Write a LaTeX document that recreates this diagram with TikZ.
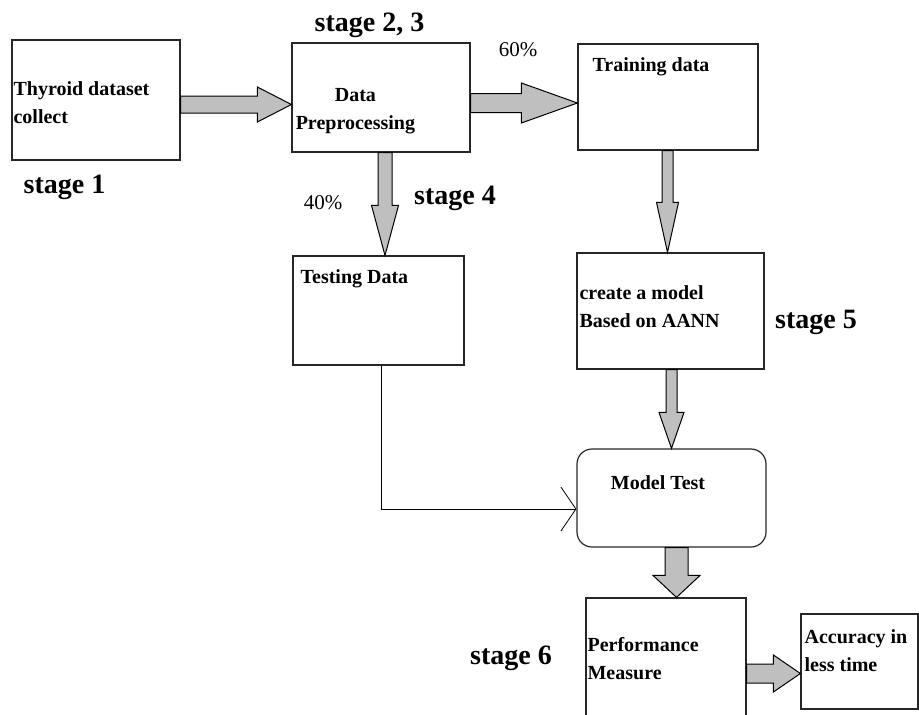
\documentclass[tikz,border=0pt]{standalone}
\usepackage{fontspec}
\setmainfont{Liberation Serif}
\usetikzlibrary{arrows.meta}
\usetikzlibrary{calc}
\tikzset{
	blk/.style={shape=rectangle,draw=black!85,line width=1.2pt,inner sep=0pt},
	fatarrow/.style={draw,fill=black!25,line width=1pt,line join=miter},
	boxtxt/.style={font=\bfseries\fontsize{20}{28}\selectfont,align=left,inner sep=0pt,anchor=west},
	stagetxt/.style={font=\bfseries\fontsize{28}{32}\selectfont,inner sep=0pt},
	pcttxt/.style={font=\fontsize{21}{24}\selectfont,inner sep=0pt}
}
\newcommand{\drawblk}[5]{
	\draw #1 node (#2) [blk,minimum width=#3pt,minimum height=#4pt,#5] {};
}
\newcommand{\fatright}[5]{
	\path #1 coordinate (fa) #2 coordinate (fb);
	\draw[fatarrow] let \p1=(fa), \p2=(fb) in (\x1,\y2+#3pt) -- (\x2-#5pt,\y2+#3pt) -- (\x2-#5pt,\y2+#4pt) -- (\x2,\y2) -- (\x2-#5pt,\y2-#4pt) -- (\x2-#5pt,\y2-#3pt) -- (\x1,\y2-#3pt) -- cycle;
}
\newcommand{\fatdown}[5]{
	\path #1 coordinate (fa) #2 coordinate (fb);
	\draw[fatarrow] let \p1=(fa), \p2=(fb) in (\x2-#3pt,\y1) -- (\x2-#3pt,\y2+#5pt) -- (\x2-#4pt,\y2+#5pt) -- (\x2,\y2) -- (\x2+#4pt,\y2+#5pt) -- (\x2+#3pt,\y2+#5pt) -- (\x2+#3pt,\y1) -- cycle;
}
\begin{document}
\begin{tikzpicture}[x=1pt,y=1pt]
\useasboundingbox (0,0) rectangle (919,-715);
\clip (0,0) rectangle (919,-715);
\drawblk{(96,-100)}{b1}{168}{120}{}
\drawblk{(381,-97.5)}{prep}{178}{109}{}
\drawblk{(668,-97)}{train}{180}{106}{}
\drawblk{(378.5,-310.5)}{test}{171}{109}{}
\drawblk{(670.5,-311)}{model}{187}{116}{}
\drawblk{(671.5,-498)}{mtest}{189}{98}{rounded corners=15pt}
\drawblk{(666,-664)}{perf}{160}{132}{}
\drawblk{(859.5,-661.5)}{acc}{117}{95}{}
\draw (b1.west) ++(right:2) ++(down:2.5) node [boxtxt] {Thyroid dataset\\collect};
\draw (prep.west) ++(right:64) ++(down:14) node [boxtxt,anchor=center,align=center] {Data\\Preprocessing};
\draw (train.north west) ++(right:15) ++(down:23) node [boxtxt] {Training data};
\draw (test.north west) ++(right:8) ++(down:23) node [boxtxt] {Testing Data};
\draw (model.west) ++(right:3) ++(up:4.5) node [boxtxt] {create a model\\Based on AANN};
\draw (mtest.north) ++(left:13.5) ++(down:34) node [boxtxt,anchor=center] {Model Test};
\draw (perf.north west) ++(right:2) ++(down:61) node [boxtxt] {Performance\\Measure};
\draw (acc.north west) ++(right:4) ++(down:37.5) node [boxtxt] {Accuracy in\\less time};
\fatright{(b1.east)}{([yshift=-7]prep.west)}{8.5}{17.5}{34}
\fatright{(prep.east)}{([yshift=-6]train.west)}{9.5}{20}{56}
\fatdown{(prep.south)}{([xshift=6.5]test.north)}{7}{13.5}{50}
\fatdown{(train.south)}{([xshift=-3]model.north)}{5.5}{11}{50}
\fatdown{(model.south)}{(mtest.north)}{5.5}{12.5}{36}
\fatdown{(mtest.south)}{([xshift=10.5]perf.north)}{11.5}{23.5}{22}
\fatright{(perf.east)}{([yshift=-12]acc.west)}{9.5}{18.5}{27}
\draw[line width=0.8pt,-{Straight Barb[length=15pt,width=44pt]}] ([xshift=2.5]test.south) |- ([yshift=-11]mtest.west);
\draw (64.5,-187) node (s1) [stagetxt] {stage 1};
\draw (369.5,-25) node (s23) [stagetxt] {stage 2, 3};
\draw (455,-198) node (s4) [stagetxt] {stage 4};
\draw (816,-322) node (s5) [stagetxt] {stage 5};
\draw (511,-658) node (s6) [stagetxt] {stage 6};
\draw (518,-50) node (p60) [pcttxt] {60\%};
\draw (323,-203) node (p40) [pcttxt] {40\%};
\end{tikzpicture}
\end{document}
